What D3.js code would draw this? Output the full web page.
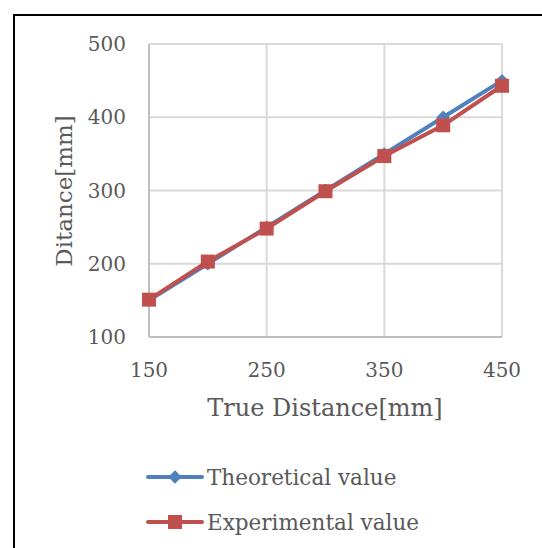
<!DOCTYPE html>
<html><head><meta charset="utf-8">
<script src="https://cdn.jsdelivr.net/npm/d3@7"></script>
<style>body{margin:0;background:#fff}svg{display:block}</style>
</head><body>
<script>
const xValues = [150, 200, 250, 300, 350, 400, 450];
const theoretical = [150, 200, 250, 300, 350, 400, 450];
const experimental = [151, 203, 248, 299, 347, 389, 443];
const xTicks = [150, 250, 350, 450];
const yTicks = [100, 200, 300, 400, 500];
const seriesNames = ["Theoretical value", "Experimental value"];
const colors = ["#4F81BD", "#C0504D"];

const W = 542, H = 548;
const svg = d3.select("body").append("svg").attr("width", W).attr("height", H);
const font = "'DejaVu Serif', serif";

svg.append("rect").attr("x", 14).attr("y", 15).attr("width", 560).attr("height", 560)
  .attr("fill", "none").attr("stroke", "#000").attr("stroke-width", 2);

const x = d3.scaleLinear().domain([150, 450]).range([149, 502]);
const y = d3.scaleLinear().domain([100, 500]).range([337, 44]);

const g = svg.append("g");
g.selectAll(".gx").data(xTicks).enter().append("line")
  .attr("x1", d => x(d)).attr("x2", d => x(d)).attr("y1", y(500)).attr("y2", y(100))
  .attr("stroke", "#d9d9d9").attr("stroke-width", 2);
g.selectAll(".gy").data(yTicks).enter().append("line")
  .attr("x1", x(150)).attr("x2", x(450)).attr("y1", d => y(d)).attr("y2", d => y(d))
  .attr("stroke", "#d9d9d9").attr("stroke-width", 2);
g.append("line").attr("x1", x(150)).attr("x2", x(150)).attr("y1", y(500)).attr("y2", y(100))
  .attr("stroke", "#bfbfbf").attr("stroke-width", 2);
g.append("line").attr("x1", x(150)).attr("x2", x(450)).attr("y1", y(100)).attr("y2", y(100))
  .attr("stroke", "#bfbfbf").attr("stroke-width", 2);

svg.selectAll(".yt").data(yTicks).enter().append("text")
  .attr("x", 126).attr("y", d => y(d)).attr("dy", "0.35em").attr("text-anchor", "end")
  .attr("font-family", font).attr("font-size", 20).attr("fill", "#595959").text(d => d);
svg.selectAll(".xt").data(xTicks).enter().append("text")
  .attr("x", d => x(d)).attr("y", 370).attr("dy", "0.35em").attr("text-anchor", "middle")
  .attr("font-family", font).attr("font-size", 20).attr("fill", "#595959").text(d => d);

svg.append("text").attr("x", 325).attr("y", 408).attr("dy", "0.35em").attr("text-anchor", "middle")
  .attr("font-family", font).attr("font-size", 24).attr("fill", "#595959").text("True Distance[mm]");
svg.append("text").attr("transform", "translate(64,191) rotate(-90)").attr("dy", "0.35em")
  .attr("text-anchor", "middle").attr("font-family", font).attr("font-size", 23)
  .attr("fill", "#595959").text("Ditance[mm]");

const line = d3.line().x((d, i) => x(xValues[i])).y(d => y(d));
[theoretical, experimental].forEach((s, k) => {
  svg.append("path").datum(s).attr("d", line).attr("fill", "none")
    .attr("stroke", colors[k]).attr("stroke-width", 4).attr("stroke-linejoin", "round");
});
const diamond = d3.symbol().type(d3.symbolSquare).size(90);
svg.selectAll(".m0").data(theoretical).enter().append("path")
  .attr("d", diamond).attr("transform", (d, i) => `translate(${x(xValues[i])},${y(d)}) rotate(45)`)
  .attr("fill", colors[0]);
svg.selectAll(".m1").data(experimental).enter().append("rect")
  .attr("x", (d, i) => x(xValues[i]) - 7).attr("y", d => y(d) - 7)
  .attr("width", 14).attr("height", 14).attr("fill", colors[1]);

const ly = [477, 522];
seriesNames.forEach((n, k) => {
  svg.append("line").attr("x1", 148).attr("x2", 202).attr("y1", ly[k]).attr("y2", ly[k])
    .attr("stroke", colors[k]).attr("stroke-width", 4).attr("stroke-linecap", "round");
  if (k === 0) {
    svg.append("path").attr("d", diamond).attr("transform", `translate(175,${ly[k]}) rotate(45)`).attr("fill", colors[0]);
  } else {
    svg.append("rect").attr("x", 168).attr("y", ly[k] - 7).attr("width", 14).attr("height", 14).attr("fill", colors[1]);
  }
  svg.append("text").attr("x", 207).attr("y", ly[k]).attr("dy", "0.35em")
    .attr("font-family", font).attr("font-size", 21.5).attr("fill", "#595959").text(n);
});
</script>
</body></html>
